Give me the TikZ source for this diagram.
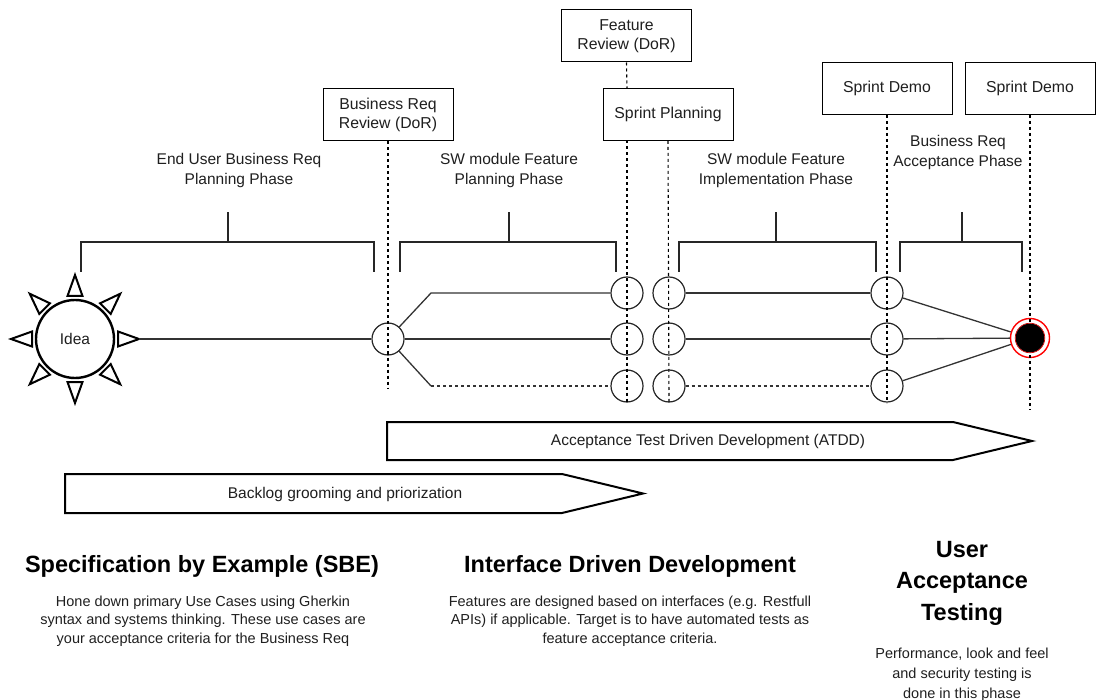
\documentclass[tikz,border=0pt]{standalone}
\usepackage{fontspec}
\setmainfont{Liberation Sans}
\begin{document}
\begin{tikzpicture}[x=1pt,y=-1pt,
  lbl/.style={font=\fontsize{15.5}{20}\selectfont, align=center, text=black!88, inner sep=0},
  boxn/.style={draw, line width=1pt, minimum width=130, minimum height=52, align=center, font=\fontsize{15.8}{19}\selectfont, text=black!88, fill=white, inner sep=0},
  pt/.style={circle, draw=black!85, line width=1.2pt, minimum size=32, inner sep=0},
  conn/.style={line width=1.3pt, draw=black!80},
  vdash/.style={line width=1.1pt, dash pattern=on 3pt off 3pt},
  brk/.style={line width=2.6pt, draw=black!85},
  ray/.style={line width=2pt, fill=white, line join=miter},
  arrowbox/.style={line width=2pt, fill=white, line join=miter},
  head/.style={font=\bfseries\fontsize{23.5}{31.5}\selectfont, align=center, inner sep=0},
  body/.style={font=\fontsize{14.5}{18.5}\selectfont, align=center, text=black!88, inner sep=0}
]
\useasboundingbox (0,0) rectangle (1097,700);

% boxes
\node[boxn] (brr) at (388,115) {Business Req\\Review (DoR)};
\node[boxn] (frv) at (626.5,36) {Feature\\Review (DoR)};
\node[boxn] (spl) at (668,114.5) {Sprint Planning};
\node[boxn] (sd1) at (887,88.5) {Sprint Demo};
\node[boxn] (sd2) at (1030,88.5) {Sprint Demo};

% phase labels
\node[lbl] (ph1) at (239,170.5) {End User Business Req\\Planning Phase};
\node[lbl] (ph2) at (509,170.5) {SW module Feature\\Planning Phase};
\node[lbl] (ph3) at (776,170.5) {SW module Feature\\Implementation Phase};
\node[lbl, fill=white] (ph4) at (958,152) {Business Req\\Acceptance Phase};

% brackets
\draw[brk] (81,272) -- (81,242) -- (374,242) -- (374,272);
\draw[brk] (228,242) -- (228,212);
\draw[brk] (400,272) -- (400,242) -- (616,242) -- (616,272);
\draw[brk] (509,242) -- (509,212);
\draw[brk] (679,272) -- (679,242) -- (876,242) -- (876,272);
\draw[brk] (776,242) -- (776,212);
\draw[brk] (900,272) -- (900,242) -- (1022,242) -- (1022,272);
\draw[brk] (962,242) -- (962,212);

% idea sun
\node[circle, draw, line width=2.4pt, minimum size=78, inner sep=0, font=\fontsize{15.5}{19}\selectfont, text=black!88] (idea) at (75,339) {Idea};
\foreach \a in {0,45,...,315}
  \draw[ray, shift={(75,339)}, rotate=\a] (43,-7.5) -- (64,0) -- (43,7.5) -- cycle;
\coordinate (ideatip) at (139,339);

% milestone circles
\node[pt] (A) at (388,339) {};
\foreach \n/\x in {p/627, q/669, r/887}{
  \node[pt] (\n t) at (\x,293) {};
  \node[pt] (\n m) at (\x,339) {};
  \node[pt] (\n b) at (\x,386) {};
}
\node[circle, draw=red, line width=1.4pt, minimum size=39, inner sep=0] (end) at (1030,338) {};
\fill[black] (end.center) circle (14.5);
\draw[red!80!black, line width=0.7pt] (end.center) circle (14.8);

% vertical dashed lines
\coordinate (aend) at (388,388);
\coordinate (pend) at (627,403);
\coordinate (qend) at (669,403);
\coordinate (rend) at (887,403);
\coordinate (eend) at (1030,410);
\coordinate (ptop) at (627,140.5);
\coordinate (pmid) at (627,88.5);
\draw[vdash] (brr.south) -- (aend);
\draw[vdash] (frv.south) -- (pmid);
\draw[vdash] (ptop) -- (pend);
\draw[vdash] (spl.south) -- (qend);
\draw[vdash] (sd1.south) -- (rend);
\draw[vdash] (sd2.south) -- (eend);

% connectors
\coordinate (bt) at (431,293);
\coordinate (bb) at (431,386);
\draw[conn] (ideatip) -- (A);
\draw[conn] (A) -- (bt) -- (pt);
\draw[conn] (A) -- (pm);
\draw[conn] (A) -- (bb);
\draw[conn, dash pattern=on 3pt off 3pt] (bb) -- (pb);
\draw[conn] (qt) -- (rt);
\draw[conn] (qm) -- (rm);
\draw[conn, dash pattern=on 3pt off 3pt] (qb) -- (rb);
\draw[conn] (rt) -- (end);
\draw[conn] (rm) -- (end);
\draw[conn] (rb) -- (end);

% process arrows
\draw[arrowbox] (387,422) -- (953,422) -- (1032,441) -- (953,460) -- (387,460) -- cycle;
\node[lbl] (atdd) at (708,441) {Acceptance Test Driven Development (ATDD)};
\draw[arrowbox] (65,474) -- (562,474) -- (643,493.5) -- (562,513) -- (65,513) -- cycle;
\node[lbl] (blg) at (345,494) {Backlog grooming and priorization};

% bottom texts
\node[head] (h1) at (202,566) {Specification by Example (SBE)};
\node[body] (b1) at (203,621) {Hone down primary Use Cases using Gherkin\\syntax and systems thinking. These use cases are\\your acceptance criteria for the Business Req};
\node[head] (h2) at (630,566) {Interface Driven Development};
\node[body] (b2) at (630,621) {Features are designed based on interfaces (e.g. Restfull\\APIs) if applicable. Target is to have automated tests as\\feature acceptance criteria.};
\node[head] (h3) at (962,583) {User\\Acceptance\\Testing};
\node[body, font=\fontsize{14.5}{20}\selectfont] (b3) at (962,675) {Performance, look and feel\\and security testing is\\done in this phase};
\end{tikzpicture}
\end{document}
